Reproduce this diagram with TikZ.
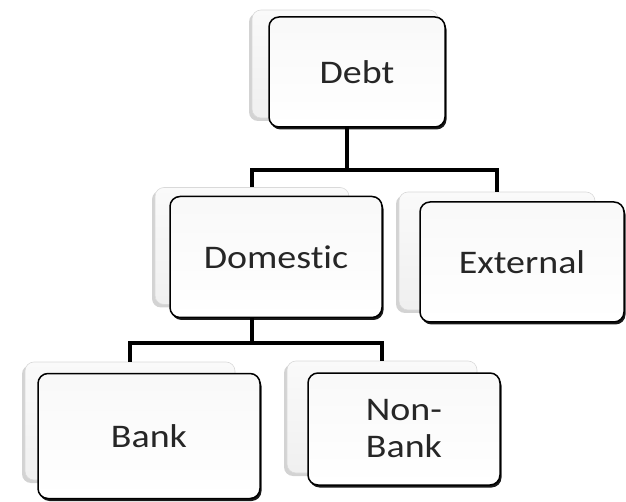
\documentclass[tikz,border=0pt]{standalone}
\usepackage{fontspec}
\setmainfont[FakeStretch=1.15,Ligatures=NoCommon]{Carlito}
\usetikzlibrary{shadows,positioning}
\tikzset{
  backbox/.style={rectangle, rounded corners=9pt, draw=gray!30, line width=0.6pt,
    top color=gray!4, bottom color=gray!12, inner sep=0pt,
    drop shadow={shadow xshift=-3pt, shadow yshift=-3pt, opacity=0.35, fill=gray}},
  frontbox/.style={rectangle, rounded corners=10pt, draw=black, line width=1.5pt,
    top color=gray!5, bottom color=white, inner sep=0pt, align=center,
    font=\fontsize{33}{37}\selectfont, text=black!85,
    drop shadow={shadow xshift=1.5pt, shadow yshift=-2.5pt, opacity=0.9, fill=black}},
  conn/.style={draw=black, line width=3.4pt}
}
\begin{document}
\begin{tikzpicture}[x=1pt,y=-1pt]
\useasboundingbox (0,0) rectangle (626,502);
% hubs
\coordinate (h1) at (347,170);
\coordinate (h2) at (252,343);
% back boxes
\node[backbox, minimum width=186pt, minimum height=108pt] (debtb) at (345,64) {};
\node[backbox, minimum width=194pt, minimum height=117pt] (domb) at (252,246) {};
\node[backbox, minimum width=196pt, minimum height=118pt] (extb) at (497,251) {};
\node[backbox, minimum width=210pt, minimum height=118pt] (bankb) at (130,421) {};
\node[backbox, minimum width=190pt, minimum height=112pt] (nbankb) at (382,417) {};
% connectors
\draw[conn] (h1 |- debtb.south) -- (h1);
\draw[conn] (domb.north) |- (h1) -| (extb.north);
\draw[conn] (h2 |- domb.south) -- (h2);
\draw[conn] (bankb.north) |- (h2) -| (nbankb.north);
% front boxes
\node[frontbox, minimum width=176pt, minimum height=110pt] (debt) at (357,72) {Debt};
\node[frontbox, minimum width=212pt, minimum height=121pt] (dom) at (276,257) {Domestic};
\node[frontbox, minimum width=204pt, minimum height=120pt] (ext) at (522,262) {External};
\node[frontbox, minimum width=222pt, minimum height=125pt] (bank) at (149,436) {Bank};
\node[frontbox, minimum width=192pt, minimum height=112pt] (nbank) at (404,429) {Non-\\Bank};
\end{tikzpicture}
\end{document}
